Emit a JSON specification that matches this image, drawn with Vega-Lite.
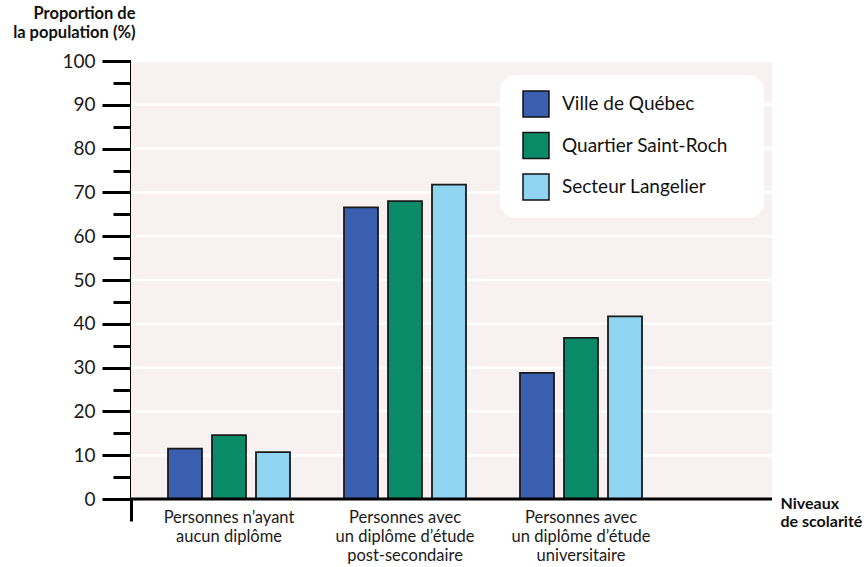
{
  "$schema": "https://vega.github.io/schema/vega-lite/v6.json",
  "autosize": "none",
  "width": 641,
  "height": 460,
  "padding": {"left": 131, "top": 61, "right": 95, "bottom": 46},
  "background": "white",
  "config": {
    "font": "Lato",
    "view": {"stroke": null},
    "legend": {
      "orient": "none",
      "legendX": 369,
      "legendY": 14,
      "padding": 15,
      "symbolOffset": 7,
      "symbolType": "square",
      "symbolSize": 676,
      "symbolStrokeColor": "#111111",
      "symbolStrokeWidth": 1.5,
      "labelFontSize": 19,
      "labelColor": "#111111",
      "labelOffset": 12,
      "rowPadding": 9.5,
      "fillColor": "white",
      "cornerRadius": 16,
      "labelLimit": 400
    }
  },
  "datasets": {
    "main": [
      {"niveau": "Personnes n’ayant aucun diplôme", "zone": "Ville de Québec", "value": 11.5},
      {"niveau": "Personnes n’ayant aucun diplôme", "zone": "Quartier Saint-Roch", "value": 14.6},
      {"niveau": "Personnes n’ayant aucun diplôme", "zone": "Secteur Langelier", "value": 10.7},
      {"niveau": "Personnes avec un diplôme d’étude post-secondaire", "zone": "Ville de Québec", "value": 66.6},
      {"niveau": "Personnes avec un diplôme d’étude post-secondaire", "zone": "Quartier Saint-Roch", "value": 68.0},
      {"niveau": "Personnes avec un diplôme d’étude post-secondaire", "zone": "Secteur Langelier", "value": 71.8},
      {"niveau": "Personnes avec un diplôme d’étude universitaire", "zone": "Ville de Québec", "value": 28.8},
      {"niveau": "Personnes avec un diplôme d’étude universitaire", "zone": "Quartier Saint-Roch", "value": 36.8},
      {"niveau": "Personnes avec un diplôme d’étude universitaire", "zone": "Secteur Langelier", "value": 41.7}
    ],
    "grid": [
      {"value": 10}, {"value": 20}, {"value": 30}, {"value": 40}, {"value": 50},
      {"value": 60}, {"value": 70}, {"value": 80}, {"value": 90}, {"value": 100}
    ],
    "one": [{}]
  },
  "layer": [
    {
      "data": {"name": "one"},
      "mark": {"type": "rect", "fill": "#f7f1f1"},
      "encoding": {
        "y": {
          "datum": 0,
          "type": "quantitative",
          "scale": {"domain": [-5, 100], "nice": false, "zero": false},
          "axis": {
            "values": [0, 5, 10, 15, 20, 25, 30, 35, 40, 45, 50, 55, 60, 65, 70, 75, 80, 85, 90, 95, 100],
            "tickCount": 40,
            "grid": false,
            "domain": true,
            "domainColor": "#000000",
            "domainWidth": 3,
            "tickColor": "#000000",
            "tickWidth": 3,
            "tickSize": 29,
            "tickDash": {"condition": {"test": "datum.value % 10 === 0", "value": [29, 0]}, "value": [18, 40]},
            "labelOverlap": false,
            "labelExpr": "datum.value % 10 === 0 ? datum.label : ''",
            "labelFontSize": 19,
            "labelColor": "#1a1a1a",
            "labelPadding": 7,
            "title": ["Proportion de", "la population (%)"],
            "titleFontSize": 16.5,
            "titleFontWeight": "bold",
            "titleColor": "#111111",
            "titleAngle": 0,
            "titleAlign": "right",
            "titleBaseline": "alphabetic",
            "titleLineHeight": 19.5,
            "titleX": 4,
            "titleY": -43
          }
        },
        "y2": {"datum": 100}
      }
    },
    {
      "data": {"name": "grid"},
      "mark": {"type": "rule", "color": "white", "strokeWidth": 2.5},
      "encoding": {
        "y": {"field": "value", "type": "quantitative"}
      }
    },
    {
      "data": {"name": "main"},
      "mark": {"type": "bar", "stroke": "#1a1a1a", "strokeWidth": 1.8},
      "encoding": {
        "x": {
          "field": "niveau",
          "type": "nominal",
          "sort": null,
          "scale": {"paddingInner": 0, "paddingOuter": 0.321, "align": 0.0885},
          "axis": {
            "orient": "bottom",
            "domain": false,
            "ticks": false,
            "tickSize": 0,
            "labelAngle": 0,
            "labelAlign": "center",
            "labelBaseline": "alphabetic",
            "labelPadding": 1,
            "labelFontSize": 16.5,
            "labelLineHeight": 19,
            "labelColor": "#1a1a1a",
            "labelLimit": 300,
            "labelExpr": "datum.label == 'Personnes n’ayant aucun diplôme' ? ['Personnes n’ayant', 'aucun diplôme'] : datum.label == 'Personnes avec un diplôme d’étude post-secondaire' ? ['Personnes avec', 'un diplôme d’étude', 'post-secondaire'] : ['Personnes avec', 'un diplôme d’étude', 'universitaire']",
            "title": ["Niveaux", "de scolarité"],
            "titleFontSize": 16,
            "titleFontWeight": "bold",
            "titleColor": "#111111",
            "titleAlign": "left",
            "titleBaseline": "alphabetic",
            "titleLineHeight": 18,
            "titleX": 649,
            "titleY": -13
          }
        },
        "xOffset": {
          "field": "zone",
          "type": "nominal",
          "sort": ["Ville de Québec", "Quartier Saint-Roch", "Secteur Langelier"],
          "scale": {"paddingInner": 0.2273, "paddingOuter": 0.6136}
        },
        "y": {"field": "value", "type": "quantitative"},
        "color": {
          "field": "zone",
          "type": "nominal",
          "scale": {
            "domain": ["Ville de Québec", "Quartier Saint-Roch", "Secteur Langelier"],
            "range": ["#3a5fae", "#0a8a66", "#8fd4f1"]
          },
          "legend": {"title": "\u2003", "titleOrient": "right", "titlePadding": 21, "titleFontSize": 16, "titleLimit": 100}
        }
      }
    },
    {
      "data": {"name": "one"},
      "mark": {"type": "rule", "color": "#000000", "strokeWidth": 3},
      "encoding": {
        "y": {"datum": 0, "type": "quantitative"}
      }
    }
  ]
}
